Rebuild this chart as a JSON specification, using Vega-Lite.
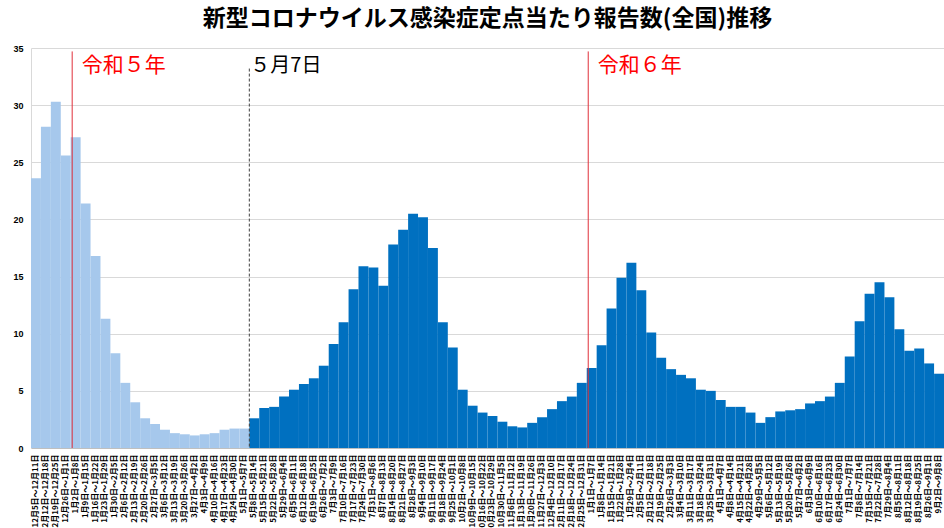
{
  "$schema": "https://vega.github.io/schema/vega-lite/v6.json",
  "autosize": {"type": "none"},
  "width": 913,
  "height": 400,
  "padding": {"left": 31, "top": 48, "right": 0, "bottom": 80},
  "background": "white",
  "title": {
    "text": "新型コロナウイルス感染症定点当たり報告数(全国)推移",
    "font": "Noto Sans CJK JP",
    "fontSize": 23,
    "fontWeight": "bold",
    "color": "#000000",
    "anchor": "middle",
    "frame": "group",
    "offset": 13
  },
  "config": {
    "view": {"stroke": null},
    "axis": {"labelFont": "Noto Sans CJK JP", "labelColor": "#000000"}
  },
  "data": {
    "values": [
      {"week": "12月5日～12月11日", "value": 23.6, "series": "A"},
      {"week": "12月12日～12月18日", "value": 28.1, "series": "A"},
      {"week": "12月19日～12月25日", "value": 30.3, "series": "A"},
      {"week": "12月26日～1月1日", "value": 25.6, "series": "A"},
      {"week": "1月2日～1月8日", "value": 27.2, "series": "A", "era": "令和５年"},
      {"week": "1月9日～1月15日", "value": 21.4, "series": "A"},
      {"week": "1月16日～1月22日", "value": 16.8, "series": "A"},
      {"week": "1月23日～1月29日", "value": 11.3, "series": "A"},
      {"week": "1月30日～2月5日", "value": 8.3, "series": "A"},
      {"week": "2月6日～2月12日", "value": 5.7, "series": "A"},
      {"week": "2月13日～2月19日", "value": 4.0, "series": "A"},
      {"week": "2月20日～2月26日", "value": 2.6, "series": "A"},
      {"week": "2月27日～3月5日", "value": 2.1, "series": "A"},
      {"week": "3月6日～3月12日", "value": 1.6, "series": "A"},
      {"week": "3月13日～3月19日", "value": 1.3, "series": "A"},
      {"week": "3月20日～3月26日", "value": 1.2, "series": "A"},
      {"week": "3月27日～4月2日", "value": 1.1, "series": "A"},
      {"week": "4月3日～4月9日", "value": 1.2, "series": "A"},
      {"week": "4月10日～4月16日", "value": 1.3, "series": "A"},
      {"week": "4月17日～4月23日", "value": 1.6, "series": "A"},
      {"week": "4月24日～4月30日", "value": 1.7, "series": "A"},
      {"week": "5月1日～5月7日", "value": 1.7, "series": "A"},
      {"week": "5月8日～5月14日", "value": 2.6, "series": "B", "note": "５月7日"},
      {"week": "5月15日～5月21日", "value": 3.5, "series": "B"},
      {"week": "5月22日～5月28日", "value": 3.6, "series": "B"},
      {"week": "5月29日～6月4日", "value": 4.5, "series": "B"},
      {"week": "6月5日～6月11日", "value": 5.1, "series": "B"},
      {"week": "6月12日～6月18日", "value": 5.6, "series": "B"},
      {"week": "6月19日～6月25日", "value": 6.1, "series": "B"},
      {"week": "6月26日～7月2日", "value": 7.2, "series": "B"},
      {"week": "7月3日～7月9日", "value": 9.1, "series": "B"},
      {"week": "7月10日～7月16日", "value": 11.0, "series": "B"},
      {"week": "7月17日～7月23日", "value": 13.9, "series": "B"},
      {"week": "7月24日～7月30日", "value": 15.9, "series": "B"},
      {"week": "7月31日～8月6日", "value": 15.8, "series": "B"},
      {"week": "8月7日～8月13日", "value": 14.2, "series": "B"},
      {"week": "8月14日～8月20日", "value": 17.8, "series": "B"},
      {"week": "8月21日～8月27日", "value": 19.1, "series": "B"},
      {"week": "8月28日～9月3日", "value": 20.5, "series": "B"},
      {"week": "9月4日～9月10日", "value": 20.2, "series": "B"},
      {"week": "9月11日～9月17日", "value": 17.5, "series": "B"},
      {"week": "9月18日～9月24日", "value": 11.0, "series": "B"},
      {"week": "9月25日～10月1日", "value": 8.8, "series": "B"},
      {"week": "10月2日～10月8日", "value": 5.1, "series": "B"},
      {"week": "10月9日～10月15日", "value": 3.7, "series": "B"},
      {"week": "10月16日～10月22日", "value": 3.1, "series": "B"},
      {"week": "10月23日～10月29日", "value": 2.8, "series": "B"},
      {"week": "10月30日～11月5日", "value": 2.3, "series": "B"},
      {"week": "11月6日～11月12日", "value": 1.9, "series": "B"},
      {"week": "11月13日～11月19日", "value": 1.8, "series": "B"},
      {"week": "11月20日～11月26日", "value": 2.2, "series": "B"},
      {"week": "11月27日～12月3日", "value": 2.7, "series": "B"},
      {"week": "12月4日～12月10日", "value": 3.4, "series": "B"},
      {"week": "12月11日～12月17日", "value": 4.1, "series": "B"},
      {"week": "12月18日～12月24日", "value": 4.5, "series": "B"},
      {"week": "12月25日～12月31日", "value": 5.7, "series": "B"},
      {"week": "1月1日～1月7日", "value": 7.0, "series": "B", "era": "令和６年"},
      {"week": "1月8日～1月14日", "value": 9.0, "series": "B"},
      {"week": "1月15日～1月21日", "value": 12.2, "series": "B"},
      {"week": "1月22日～1月28日", "value": 14.9, "series": "B"},
      {"week": "1月29日～2月4日", "value": 16.2, "series": "B"},
      {"week": "2月5日～2月11日", "value": 13.8, "series": "B"},
      {"week": "2月12日～2月18日", "value": 10.1, "series": "B"},
      {"week": "2月19日～2月25日", "value": 7.9, "series": "B"},
      {"week": "2月26日～3月3日", "value": 6.9, "series": "B"},
      {"week": "3月4日～3月10日", "value": 6.4, "series": "B"},
      {"week": "3月11日～3月17日", "value": 6.1, "series": "B"},
      {"week": "3月18日～3月24日", "value": 5.1, "series": "B"},
      {"week": "3月25日～3月31日", "value": 5.0, "series": "B"},
      {"week": "4月1日～4月7日", "value": 4.2, "series": "B"},
      {"week": "4月8日～4月14日", "value": 3.6, "series": "B"},
      {"week": "4月15日～4月21日", "value": 3.6, "series": "B"},
      {"week": "4月22日～4月28日", "value": 3.1, "series": "B"},
      {"week": "4月29日～5月5日", "value": 2.2, "series": "B"},
      {"week": "5月6日～5月12日", "value": 2.7, "series": "B"},
      {"week": "5月13日～5月19日", "value": 3.2, "series": "B"},
      {"week": "5月20日～5月26日", "value": 3.3, "series": "B"},
      {"week": "5月27日～6月2日", "value": 3.4, "series": "B"},
      {"week": "6月3日～6月9日", "value": 3.9, "series": "B"},
      {"week": "6月10日～6月16日", "value": 4.1, "series": "B"},
      {"week": "6月17日～6月23日", "value": 4.5, "series": "B"},
      {"week": "6月24日～6月30日", "value": 5.7, "series": "B"},
      {"week": "7月1日～7月7日", "value": 8.0, "series": "B"},
      {"week": "7月8日～7月14日", "value": 11.1, "series": "B"},
      {"week": "7月15日～7月21日", "value": 13.5, "series": "B"},
      {"week": "7月22日～7月28日", "value": 14.5, "series": "B"},
      {"week": "7月29日～8月4日", "value": 13.2, "series": "B"},
      {"week": "8月5日～8月11日", "value": 10.4, "series": "B"},
      {"week": "8月12日～8月18日", "value": 8.5, "series": "B"},
      {"week": "8月19日～8月25日", "value": 8.7, "series": "B"},
      {"week": "8月26日～9月1日", "value": 7.4, "series": "B"},
      {"week": "9月2日～9月8日", "value": 6.5, "series": "B"}
    ]
  },
  "encoding": {
    "x": {
      "field": "week",
      "type": "ordinal",
      "sort": null,
      "scale": {"paddingInner": 0, "paddingOuter": 0},
      "axis": {
        "title": null,
        "labelAngle": 270,
        "labelFontSize": 8,
        "labelFontWeight": "bold",
        "labelPadding": 6,
        "labelOverlap": false,
        "labelLimit": 0,
        "ticks": false,
        "domainColor": "#bfbfbf"
      }
    }
  },
  "layer": [
    {
      "mark": {"type": "bar"},
      "encoding": {
        "y": {
          "field": "value",
          "type": "quantitative",
          "scale": {"domain": [0, 35], "nice": false},
          "axis": {
            "title": null,
            "values": [0, 5, 10, 15, 20, 25, 30, 35],
            "labelFontSize": 9,
            "labelFontWeight": "bold",
            "labelFont": "Liberation Sans",
            "labelPadding": 8,
            "ticks": false,
            "domainColor": "#d9d9d9",
            "gridColor": "#d9d9d9",
            "grid": true
          }
        },
        "color": {
          "field": "series",
          "type": "nominal",
          "scale": {"domain": ["A", "B"], "range": ["#a6c8ec", "#0070c0"]},
          "legend": null
        }
      }
    },
    {
      "transform": [{"filter": "datum.era"}],
      "mark": {"type": "rule", "color": "#e0303a", "strokeWidth": 1},
      "encoding": {
        "x": {"field": "week", "type": "ordinal", "sort": null, "bandPosition": 0.15},
        "y": {"datum": 34.7},
        "y2": {"datum": 0}
      }
    },
    {
      "transform": [{"filter": "datum.era"}],
      "mark": {"type": "text", "color": "#ff0000", "fontSize": 21, "font": "Noto Sans CJK JP", "align": "left", "baseline": "middle", "dx": 11},
      "encoding": {
        "x": {"field": "week", "type": "ordinal", "sort": null, "bandPosition": 0},
        "y": {"datum": 33.4},
        "text": {"field": "era"}
      }
    },
    {
      "transform": [{"filter": "datum.note"}],
      "mark": {"type": "rule", "color": "#404040", "strokeWidth": 1, "strokeDash": [3, 2]},
      "encoding": {
        "x": {"field": "week", "type": "ordinal", "sort": null, "bandPosition": 0},
        "y": {"datum": 33.2},
        "y2": {"datum": 0}
      }
    },
    {
      "transform": [{"filter": "datum.note"}],
      "mark": {"type": "text", "color": "#000000", "fontSize": 20, "font": "Noto Sans CJK JP", "align": "left", "baseline": "middle", "dx": 1},
      "encoding": {
        "x": {"field": "week", "type": "ordinal", "sort": null, "bandPosition": 0},
        "y": {"datum": 33.4},
        "text": {"field": "note"}
      }
    }
  ]
}
